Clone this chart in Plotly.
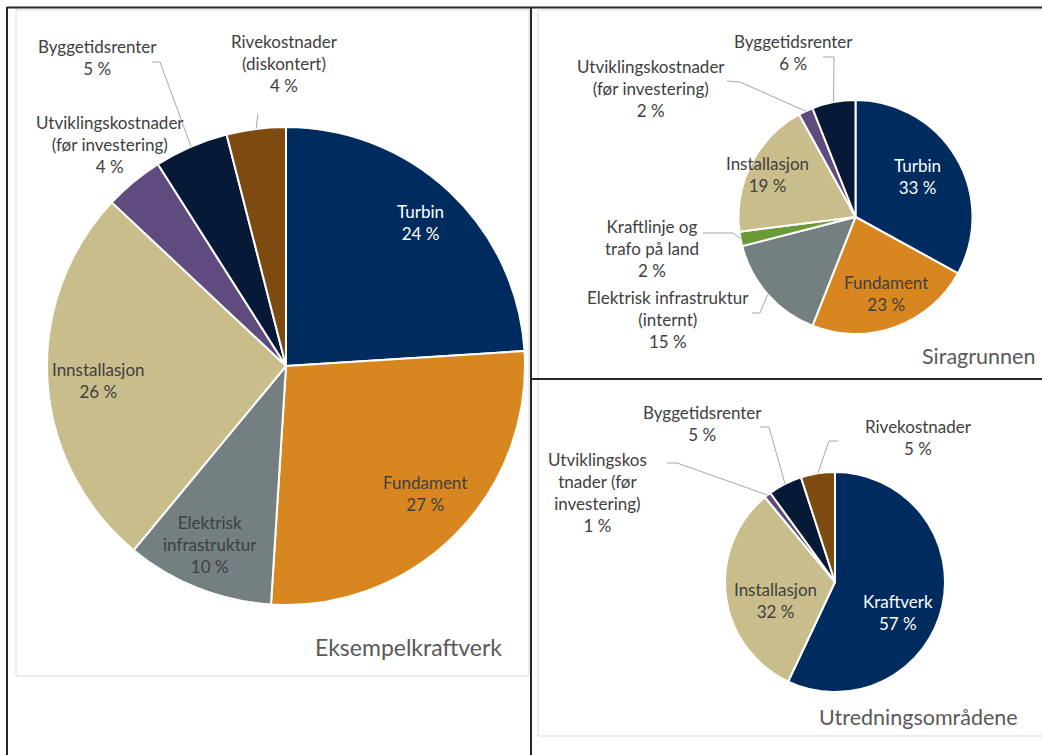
import math
import plotly.graph_objects as go

# ---------------- data ----------------
eks_categories = ["Turbin", "Fundament", "Elektrisk infrastruktur", "Innstallasjon",
                  "Utviklingskostnader (før investering)", "Byggetidsrenter",
                  "Rivekostnader (diskontert)"]
eks_values = [24, 27, 10, 26, 4, 5, 4]
eks_display = ["Turbin", "Fundament", "Elektrisk<br>infrastruktur", "Innstallasjon",
               "Utviklingskostnader<br>(før investering)", "Byggetidsrenter",
               "Rivekostnader<br>(diskontert)"]

sira_categories = ["Turbin", "Fundament", "Elektrisk infrastruktur (internt)",
                   "Kraftlinje og trafo på land", "Installasjon",
                   "Utviklingskostnader (før investering)", "Byggetidsrenter"]
sira_values = [33, 23, 15, 2, 19, 2, 6]
sira_display = ["Turbin", "Fundament", "Elektrisk infrastruktur<br>(internt)",
                "Kraftlinje og<br>trafo på land", "Installasjon",
                "Utviklingskostnader<br>(før investering)", "Byggetidsrenter"]

utr_categories = ["Kraftverk", "Installasjon", "Utviklingskostnader (før investering)",
                  "Byggetidsrenter", "Rivekostnader"]
utr_values = [57, 32, 1, 5, 5]
utr_display = ["Kraftverk", "Installasjon", "Utviklingskos<br>tnader (før<br>investering)",
               "Byggetidsrenter", "Rivekostnader"]

titles = ["Eksempelkraftverk", "Siragrunnen", "Utredningsområdene"]

# ---------------- styling ----------------
W, H = 1042, 755
FONT = "Lato, 'Open Sans', sans-serif"
TXT = "#404040"
LEAD = "#A6A6A6"
LSIZE = 17
COLORS = {
    "Turbin": "#002B5E", "Kraftverk": "#002B5E",
    "Fundament": "#D8861F",
    "Elektrisk infrastruktur": "#737F80", "Elektrisk infrastruktur (internt)": "#737F80",
    "Innstallasjon": "#C9BD8B", "Installasjon": "#C9BD8B",
    "Utviklingskostnader (før investering)": "#5F4B7D",
    "Byggetidsrenter": "#061936",
    "Rivekostnader (diskontert)": "#7D4A10", "Rivekostnader": "#7D4A10",
    "Kraftlinje og trafo på land": "#6B9A38",
}
WHITE_LABELS = {"Turbin", "Kraftverk"}


def px(x):
    return x / W


def py(y):
    return 1 - y / H


charts = [
    dict(cats=eks_categories, vals=eks_values, disp=eks_display, center=(286, 366), r=239,
         labelpos=[(420, 223), (425, 493), (210, 544), (98, 381), (110, 144), (97, 57), (284, 63)],
         leaders={"Byggetidsrenter": [(152, 62), (160, 62)],
                  "Rivekostnader (diskontert)": [(258, 114)]},
         title=titles[0], titlepos=(504, 647), tsize=23),
    dict(cats=sira_categories, vals=sira_values, disp=sira_display, center=(855.5, 217), r=117,
         labelpos=[(917, 176), (886, 293), (668, 319), (652, 249), (767, 175), (651, 88), (793, 52)],
         leaders={"Byggetidsrenter": [(823, 57), (834, 57)],
                  "Utviklingskostnader (før investering)": [(727, 81), (740, 82)],
                  "Kraftlinje og trafo på land": [(703, 233), (733, 233)],
                  "Elektrisk infrastruktur (internt)": [(752, 313), (760, 313)]},
         title=titles[1], titlepos=(1037, 356), tsize=21.5),
    dict(cats=utr_categories, vals=utr_values, disp=utr_display, center=(835, 582), r=110,
         labelpos=[(898, 612), (775, 600), (597, 492), (702, 423), (918, 437)],
         leaders={"Byggetidsrenter": [(760, 427), (769, 427)],
                  "Rivekostnader": [(838, 441), (829, 441)],
                  "Utviklingskostnader (før investering)": [(667, 463), (677, 463)]},
         title=titles[2], titlepos=(1020, 717), tsize=21.5),
]

fig = go.Figure()
annotations = []
shapes = []

for ch in charts:
    cx, cy = ch["center"]
    r = ch["r"]
    fig.add_trace(go.Pie(
        labels=ch["cats"], values=ch["vals"], sort=False, direction="clockwise",
        rotation=0, textinfo="none", hoverinfo="label+percent",
        marker=dict(colors=[COLORS[c] for c in ch["cats"]], line=dict(color="white", width=2)),
        domain=dict(x=[px(cx - r), px(cx + r)], y=[py(cy + r), py(cy - r)]),
        showlegend=False,
    ))
    total = sum(ch["vals"])
    cum = 0
    for cat, val, disp, (lx, ly) in zip(ch["cats"], ch["vals"], ch["disp"], ch["labelpos"]):
        mid = (cum + val / 2) / total
        cum += val
        annotations.append(dict(
            x=px(lx), y=py(ly), xref="paper", yref="paper", showarrow=False,
            text=f"{disp}<br>{val} %", align="center", xanchor="center", yanchor="middle",
            font=dict(family=FONT, size=LSIZE, color="white" if cat in WHITE_LABELS else TXT),
        ))
        if cat in ch["leaders"]:
            th = 2 * math.pi * mid
            ex, ey = cx + r * math.sin(th), cy - r * math.cos(th)
            pts = ch["leaders"][cat] + [(ex, ey)]
            path = "M " + " L ".join(f"{px(a):.5f},{py(b):.5f}" for a, b in pts)
            shapes.append(dict(type="path", path=path, xref="paper", yref="paper",
                               line=dict(color=LEAD, width=1)))
    tx, ty = ch["titlepos"]
    annotations.append(dict(
        x=px(tx), y=py(ty), xref="paper", yref="paper", showarrow=False,
        text=ch["title"], xanchor="right", yanchor="middle",
        font=dict(family=FONT, size=ch["tsize"], color="#595959"),
    ))

# frames
def line(x0, y0, x1, y1, color, width):
    return dict(type="line", xref="paper", yref="paper", x0=px(x0), y0=py(y0),
                x1=px(x1), y1=py(y1), line=dict(color=color, width=width))

GRAY = "#D9D9D9"
BLK = "#262626"
shapes += [
    line(16, 10, 529, 10, GRAY, 1), line(16, 10, 16, 676, GRAY, 1),
    line(16, 676, 529, 676, GRAY, 1), line(529, 10, 529, 676, GRAY, 1),
    line(538, 10, 1042, 10, GRAY, 1), line(538, 10, 538, 736, GRAY, 1),
    line(538, 736, 1042, 736, GRAY, 1),
    line(7, 7.5, 1042, 7.5, BLK, 2), line(7, 7, 7, 755, BLK, 2),
    line(531, 7, 531, 755, BLK, 2), line(531, 379, 1042, 379, BLK, 2),
]

fig.update_layout(
    width=W, height=H, margin=dict(l=0, r=0, t=0, b=0),
    paper_bgcolor="white", plot_bgcolor="white", showlegend=False,
    annotations=annotations, shapes=shapes,
    font=dict(family=FONT, color=TXT),
)

fig.write_html("out.html", config={"displayModeBar": False},
               post_script="document.body.style.margin='0';document.body.style.overflow='hidden';")
